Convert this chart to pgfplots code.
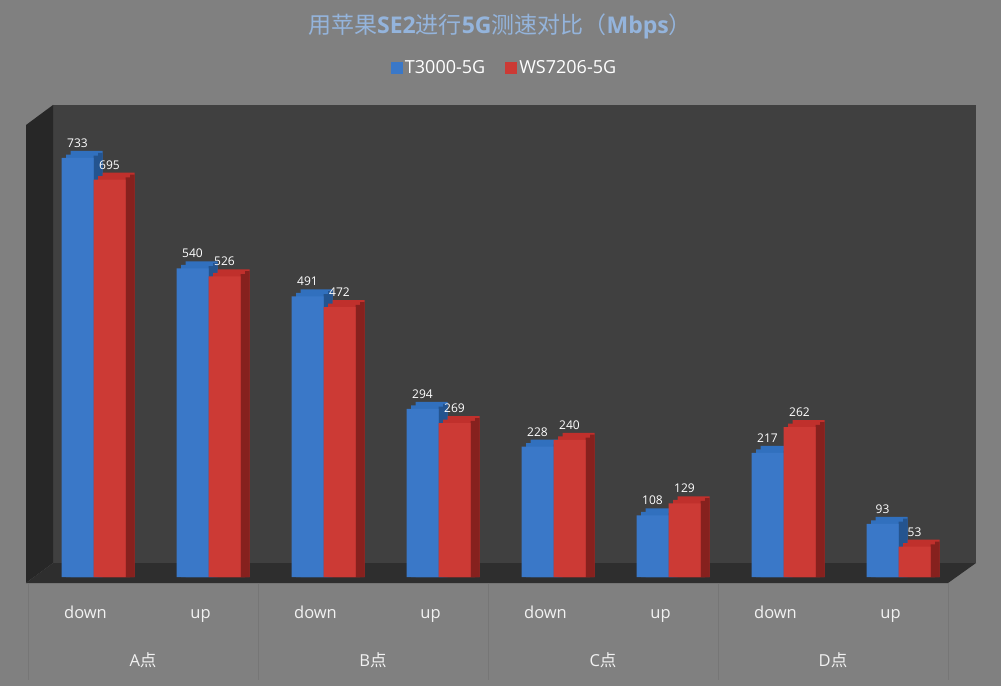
\documentclass[border=0pt]{standalone}
\usepackage{pgfplots}
\pgfplotsset{compat=1.18}
\usepackage{pgfplotstable}
\usepackage{fontspec}
\setmainfont{Open Sans}
\newfontfamily\cjk{Noto Sans CJK SC}
\definecolor{bg}{HTML}{808080}
\definecolor{wall}{HTML}{404040}
\definecolor{sidewall}{HTML}{272727}
\definecolor{floorc}{HTML}{2E2E2E}
\definecolor{sepc}{HTML}{767676}
\definecolor{titlec}{HTML}{94B4DC}
\definecolor{bfront}{HTML}{3A78C8}
\definecolor{btop}{HTML}{3170BE}
\definecolor{bside}{HTML}{24548F}
\definecolor{rfront}{HTML}{CC3A35}
\definecolor{rtop}{HTML}{C0302C}
\definecolor{rside}{HTML}{86211E}
\definecolor{lab}{HTML}{F2F2F2}

\pgfplotstableread{
x v
0 733
1 540
2 491
3 294
4 228
5 108
6 217
7 93
}\tblue
\pgfplotstableread{
x v
0 695
1 526
2 472
3 269
4 240
5 129
6 262
7 53
}\tred

\begin{document}
\begin{tikzpicture}[x=1pt,y=1pt]
\fill[bg] (0,0) rectangle (1001,686);
\fill[wall] (53,123) rectangle (976,581);
\fill[sidewall] (26,103) -- (53,123) -- (53,581) -- (26,561) -- cycle;
\fill[floorc] (26,103) -- (53,123) -- (976,123) -- (948,103) -- cycle;
\foreach \xx in {28,258,488,718,948} \draw[sepc, line width=0.8pt] (\xx,103) -- (\xx,6);
\node[text=titlec, font=\fontsize{23}{28}\selectfont, inner sep=0pt] at (500,660)
  {{\cjk 用苹果}{\bfseries SE2}{\cjk 进行}{\bfseries 5G}{\cjk 测速对比（}{\bfseries Mbps}{\cjk ）}};
\begin{axis}[
  at={(28pt,109pt)}, anchor=south west, scale only axis,
  width=920pt, height=457.3pt,
  xmin=-0.5, xmax=7.5, ymin=0, ymax=800,
  clip=false,
  axis line style={draw=none},
  ytick=\empty,
  xtick={0,...,7},
  xticklabels={down,up,down,up,down,up,down,up},
  major tick length=0pt,
  /pgf/number format/assume math mode=true,
  xticklabel style={anchor=base, yshift=-41pt, text=lab, font=\fontsize{16.5}{20}\selectfont},
  legend style={at={(0.518,1.113)}, anchor=center, draw=none, fill=none,
    legend columns=2, text=white, font=\fontsize{18}{22}\selectfont,
    /tikz/every even column/.append style={column sep=18pt}},
  legend image code/.code={\fill[#1,draw=none] (0pt,-6pt) rectangle (12pt,6pt);},
]
% blue depth
\addplot[ybar, bar width=32pt, bar shift=-3.5pt, fill=btop, draw=none, forget plot] table[x=x, y expr=\thisrow{v}+6.1] {\tblue};
\addplot[ybar, bar width=32pt, bar shift=1pt, fill=btop, draw=none, forget plot] table[x=x, y expr=\thisrow{v}+12.25] {\tblue};
\addplot[ybar, bar width=4.5pt, bar shift=10.25pt, fill=bside, draw=none, forget plot] table[x=x, y expr=\thisrow{v}+4] {\tblue};
\addplot[ybar, bar width=4.5pt, bar shift=14.75pt, fill=bside, draw=none, forget plot] table[x=x, y expr=\thisrow{v}+9] {\tblue};
% blue front
\addplot[ybar, bar width=32pt, bar shift=-8pt, fill=bfront, draw=none,
  nodes near coords, nodes near coords style={text=white, font=\fontsize{12}{14}\selectfont, anchor=south, yshift=7pt, xshift=-8pt}]
  table[x=x, y=v] {\tblue};
\addlegendentry{T3000-5G}
% red depth
\addplot[ybar, bar width=32pt, bar shift=28.5pt, fill=rtop, draw=none, forget plot] table[x=x, y expr=\thisrow{v}+6.1] {\tred};
\addplot[ybar, bar width=32pt, bar shift=33pt, fill=rtop, draw=none, forget plot] table[x=x, y expr=\thisrow{v}+12.25] {\tred};
\addplot[ybar, bar width=4.5pt, bar shift=42.25pt, fill=rside, draw=none, forget plot] table[x=x, y expr=\thisrow{v}+4] {\tred};
\addplot[ybar, bar width=4.5pt, bar shift=46.75pt, fill=rside, draw=none, forget plot] table[x=x, y expr=\thisrow{v}+9] {\tred};
% red front
\addplot[ybar, bar width=32pt, bar shift=24pt, fill=rfront, draw=none,
  nodes near coords, nodes near coords style={text=white, font=\fontsize{12}{14}\selectfont, anchor=south, yshift=7pt, xshift=24pt}]
  table[x=x, y=v] {\tred};
\addlegendentry{WS7206-5G}
\end{axis}
\foreach \xx/\ll in {143/A,373/B,603/C,833/D}
  \node[text=lab, font=\fontsize{16.5}{20}\selectfont] at (\xx,26) {\ll{\cjk 点}};
\end{tikzpicture}
\end{document}
